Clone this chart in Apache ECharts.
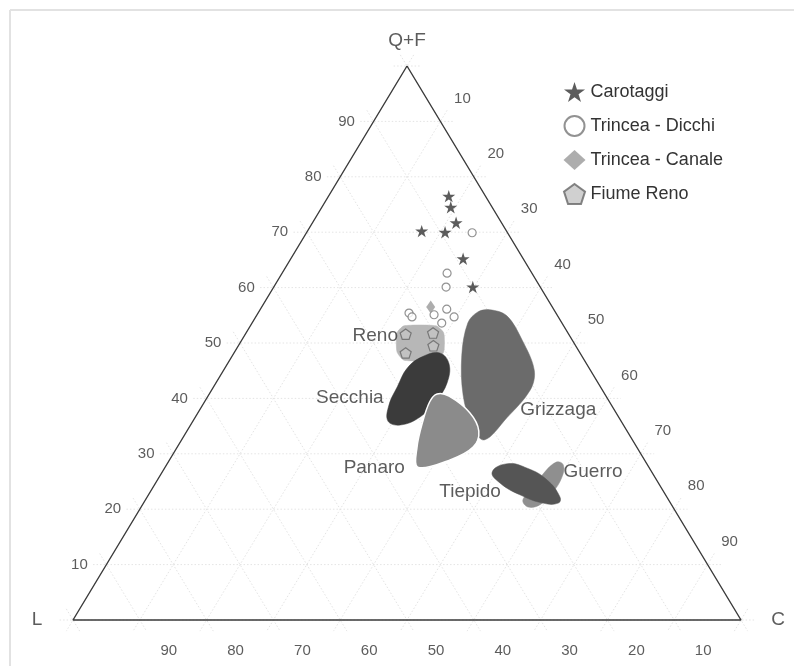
<!DOCTYPE html>
<html>
<head>
<meta charset="utf-8">
<script src="https://cdn.jsdelivr.net/npm/echarts@6/dist/echarts.min.js"></script>
<style>
  html, body { margin: 0; padding: 0; background: #fff; }
  #chart { width: 794px; height: 666px; }
</style>
</head>
<body>
<div id="chart"></div>
<script>
  // all compositions are [Q+F, L, C] in percent
  const tickValues = [10, 20, 30, 40, 50, 60, 70, 80, 90];
  const gridSteps = [0, 10, 20, 30, 40, 50, 60, 70, 80, 90, 100];
  const vertexNames = ['Q+F', 'L', 'C'];

  const carotaggi = [
    [76.5, 5.5, 18.0], [74.5, 6.2, 19.3], [71.7, 6.8, 21.5], [70.2, 12.7, 17.1],
    [70.0, 9.3, 20.7], [65.2, 9.0, 25.8], [60.1, 10.1, 29.8]
  ];
  const trinceaDicchi = [
    [69.9, 5.3, 24.8], [62.6, 12.7, 24.7], [60.1, 14.1, 25.8], [56.1, 16.0, 27.9],
    [55.4, 22.0, 22.6], [54.7, 21.9, 23.4], [55.1, 18.4, 26.5], [54.7, 15.6, 29.7],
    [53.6, 18.0, 28.4]
  ];
  const trinceaCanale = [[56.5, 18.2, 25.3]];
  const fiumeReno = [[51.6, 24.4, 24.0], [51.8, 20.2, 28.0], [49.5, 21.3, 29.2], [48.2, 26.1, 25.7]];

  // outline vertices of the river fields
  const fieldReno = [
    [53.1, 23.9, 23.0], [53.1, 19.1, 27.8], [51.8, 18.6, 29.6], [48.4, 20.3, 31.3],
    [46.9, 22.2, 30.9], [46.9, 27.0, 26.1], [48.4, 27.3, 24.3], [51.8, 25.6, 22.6]
  ];
  const fieldSecchia = [
    [47.5, 24.0, 28.5], [48.2, 21.0, 30.8], [46.2, 20.6, 33.2], [42.8, 22.6, 34.6],
    [39.7, 25.7, 34.6], [36.6, 29.8, 33.6], [35.2, 33.4, 31.4], [35.9, 34.9, 29.2],
    [38.8, 33.3, 27.9], [42.1, 30.4, 27.5], [45.5, 27.2, 27.3]
  ];
  const fieldGrizzaga = [
    [56.0, 9.6, 34.4], [54.9, 7.6, 37.5], [50.5, 7.5, 42.0], [45.1, 8.4, 46.5],
    [41.5, 10.8, 47.7], [36.5, 16.8, 46.7], [32.5, 22.2, 45.3], [35.2, 22.7, 42.1],
    [40.6, 21.3, 38.1], [47.8, 17.9, 34.3], [53.6, 14.1, 32.3], [55.6, 11.6, 32.8]
  ];
  const fieldPanaro = [
    [40.8, 25.1, 34.1], [40.4, 23.5, 36.1], [37.4, 21.9, 40.7], [34.1, 22.2, 43.7],
    [31.2, 24.5, 44.3], [28.9, 29.1, 42.0], [27.6, 34.6, 37.8], [31.2, 32.9, 35.9],
    [35.6, 29.9, 34.5], [39.4, 26.9, 33.7]
  ];
  const fieldGuerro = [
    [28.5, 13.4, 58.1], [28.0, 12.6, 59.4], [25.8, 13.9, 60.3], [23.1, 16.6, 60.3],
    [20.8, 19.7, 59.5], [20.4, 21.7, 57.9], [21.7, 21.8, 56.5], [23.8, 19.2, 57.0],
    [26.4, 16.4, 57.2]
  ];
  const fieldTiepido = [
    [26.7, 23.9, 49.4], [28.2, 20.9, 50.9], [27.4, 18.3, 54.3], [25.3, 16.4, 58.3],
    [22.2, 16.0, 61.8], [21.1, 16.8, 62.1], [21.1, 19.1, 59.8], [22.6, 21.8, 55.6],
    [24.7, 23.7, 51.6]
  ];
  const fieldNames = ['Reno', 'Secchia', 'Grizzaga', 'Panaro', 'Guerro', 'Tiepido'];
  const fieldShapes = [fieldReno, fieldSecchia, fieldGrizzaga, fieldPanaro, fieldGuerro, fieldTiepido];
  const fieldLabelAt = [
    [51.3, 29.1, 19.6], [40.1, 38.5, 21.4], [37.9, 8.4, 53.7],
    [27.4, 41.2, 31.4], [26.7, 8.8, 64.5], [23.1, 29.0, 47.9]
  ];

  // styling
  const fieldFill = ['#b7b7b7', '#3b3b3b', '#6b6b6b', '#8b8b8b', '#8f8f8f', '#555555'];
  const fieldStroke = ['#b7b7b7', '#3b3b3b', '#6b6b6b', '#ffffff', '#8f8f8f', '#555555'];
  const fieldSmooth = [0.2, 0.4, 0.35, 0.35, 0.4, 0.45];
  const fieldTextColor = ['#a8a8a8', '#333333', '#777777', '#999999', '#999999', '#444444'];
  const FONT = '"Liberation Sans", Arial, sans-serif';
  const STAR = 'path://M50 0L61.2 34.5H97.6L68.2 55.9L79.4 90.5L50 69.1L20.6 90.5L31.8 55.9L2.4 34.5H38.8Z';
  const PENTAGON = 'path://M50 0L97.6 34.5L79.4 90.5H20.6L2.4 34.5Z';

  // ternary -> cartesian (x from 0 to 1, y = Q+F fraction)
  function toXY(p) {
    return [p[2] / 100 + p[0] / 200, p[0] / 100];
  }

  // grid lines, slightly longer than the triangle
  const E = 2;
  const gridLines = [];
  gridSteps.forEach(k => {
    gridLines.push(toXY([k, 100 - k + E, -E]).concat(toXY([k, -E, 100 - k + E])));
    gridLines.push(toXY([100 - k + E, -E, k]).concat(toXY([-E, 100 - k + E, k])));
    gridLines.push(toXY([100 - k + E, k, -E]).concat(toXY([-E, k, 100 - k + E])));
  });

  const chart = echarts.init(document.getElementById('chart'));

  function labelSeries(points, texts, offset, fontSize, colors) {
    return {
      type: 'scatter',
      silent: true,
      clip: false,
      symbolSize: 0,
      z: 5,
      data: points.map((p, i) => ({ value: toXY(p), name: String(texts[i]) })),
      label: {
        show: true,
        position: 'inside',
        offset: offset,
        formatter: prm => prm.name,
        fontFamily: FONT,
        fontSize: fontSize,
        color: colors ? (prm => colors[prm.dataIndex]) : '#333'
      }
    };
  }

  const option = {
    backgroundColor: '#fff',
    animation: false,
    grid: { left: 73, right: 53, top: 66, bottom: 46 },
    xAxis: { type: 'value', min: 0, max: 1, show: false },
    yAxis: { type: 'value', min: 0, max: 1, show: false },
    graphic: [
      { type: 'line', shape: { x1: 10, y1: 10, x2: 794, y2: 10 }, style: { stroke: '#e2e2e2', lineWidth: 2 } },
      { type: 'line', shape: { x1: 10, y1: 10, x2: 10, y2: 666 }, style: { stroke: '#e2e2e2', lineWidth: 2 } }
    ],
    legend: {
      data: ['Carotaggi', 'Trincea - Dicchi', 'Trincea - Canale', 'Fiume Reno'],
      orient: 'vertical',
      left: 558,
      top: 77,
      itemWidth: 22,
      itemHeight: 20,
      itemGap: 13,
      selectedMode: false,
      textStyle: { fontFamily: FONT, fontSize: 18, color: '#333' }
    },
    series: [
      {
        type: 'custom',
        silent: true,
        z: 1,
        encode: { x: [0, 2], y: [1, 3] },
        data: gridLines,
        renderItem: (params, api) => {
          const a = api.coord([api.value(0), api.value(1)]);
          const b = api.coord([api.value(2), api.value(3)]);
          return {
            type: 'line',
            shape: { x1: a[0], y1: a[1], x2: b[0], y2: b[1] },
            style: { stroke: '#e4e4e4', lineWidth: 1, lineDash: [1.5, 2] }
          };
        }
      },
      {
        type: 'line',
        silent: true,
        clip: false,
        z: 2,
        symbol: 'none',
        lineStyle: { color: '#3a3a3a', width: 1.4 },
        data: [toXY([100, 0, 0]), toXY([0, 100, 0]), toXY([0, 0, 100]), toXY([100, 0, 0])]
      },
      {
        type: 'custom',
        silent: true,
        z: 3,
        encode: { x: 0, y: 1 },
        data: fieldShapes.map(f => toXY(f[0])),
        renderItem: (params, api) => {
          const i = params.dataIndex;
          const pts = fieldShapes[i].map(p => api.coord(toXY(p)));
          return {
            type: 'polygon',
            shape: { points: pts, smooth: fieldSmooth[i] },
            style: { fill: fieldFill[i], stroke: fieldStroke[i], lineWidth: i === 3 ? 1.5 : 0.5 }
          };
        }
      },
      {
        name: 'Carotaggi',
        type: 'scatter',
        z: 4,
        symbol: STAR,
        symbolKeepAspect: true,
        symbolSize: 13,
        itemStyle: { color: '#333' },
        data: carotaggi.map(toXY)
      },
      {
        name: 'Trincea - Dicchi',
        type: 'scatter',
        z: 4,
        symbol: 'circle',
        symbolSize: 8,
        itemStyle: { color: '#fff', borderColor: '#777', borderWidth: 1.2 },
        data: trinceaDicchi.map(toXY)
      },
      {
        name: 'Trincea - Canale',
        type: 'scatter',
        z: 4,
        symbol: 'diamond',
        symbolSize: [9, 13],
        itemStyle: { color: '#999' },
        data: trinceaCanale.map(toXY)
      },
      {
        name: 'Fiume Reno',
        type: 'scatter',
        z: 4,
        symbol: PENTAGON,
        symbolKeepAspect: true,
        symbolSize: 11,
        itemStyle: { color: '#c4c4c4', borderColor: '#666', borderWidth: 1.2 },
        data: fiumeReno.map(toXY)
      },
      labelSeries(tickValues.map(k => [k, 100 - k, 0]), tickValues, [-27, 0], 15),
      labelSeries(tickValues.map(k => [100 - k, 0, k]), tickValues, [22, -23], 15),
      labelSeries(tickValues.map(k => [0, k, 100 - k]), tickValues, [29, 31], 15),
      labelSeries([[100, 0, 0]], [vertexNames[0]], [0, -25], 19),
      labelSeries([[0, 100, 0]], [vertexNames[1]], [-36, 0], 19),
      labelSeries([[0, 0, 100]], [vertexNames[2]], [37, 0], 19),
      labelSeries(fieldLabelAt, fieldNames, [0, 0], 19, fieldTextColor)
    ]
  };

  chart.setOption(option);
</script>
</body>
</html>
